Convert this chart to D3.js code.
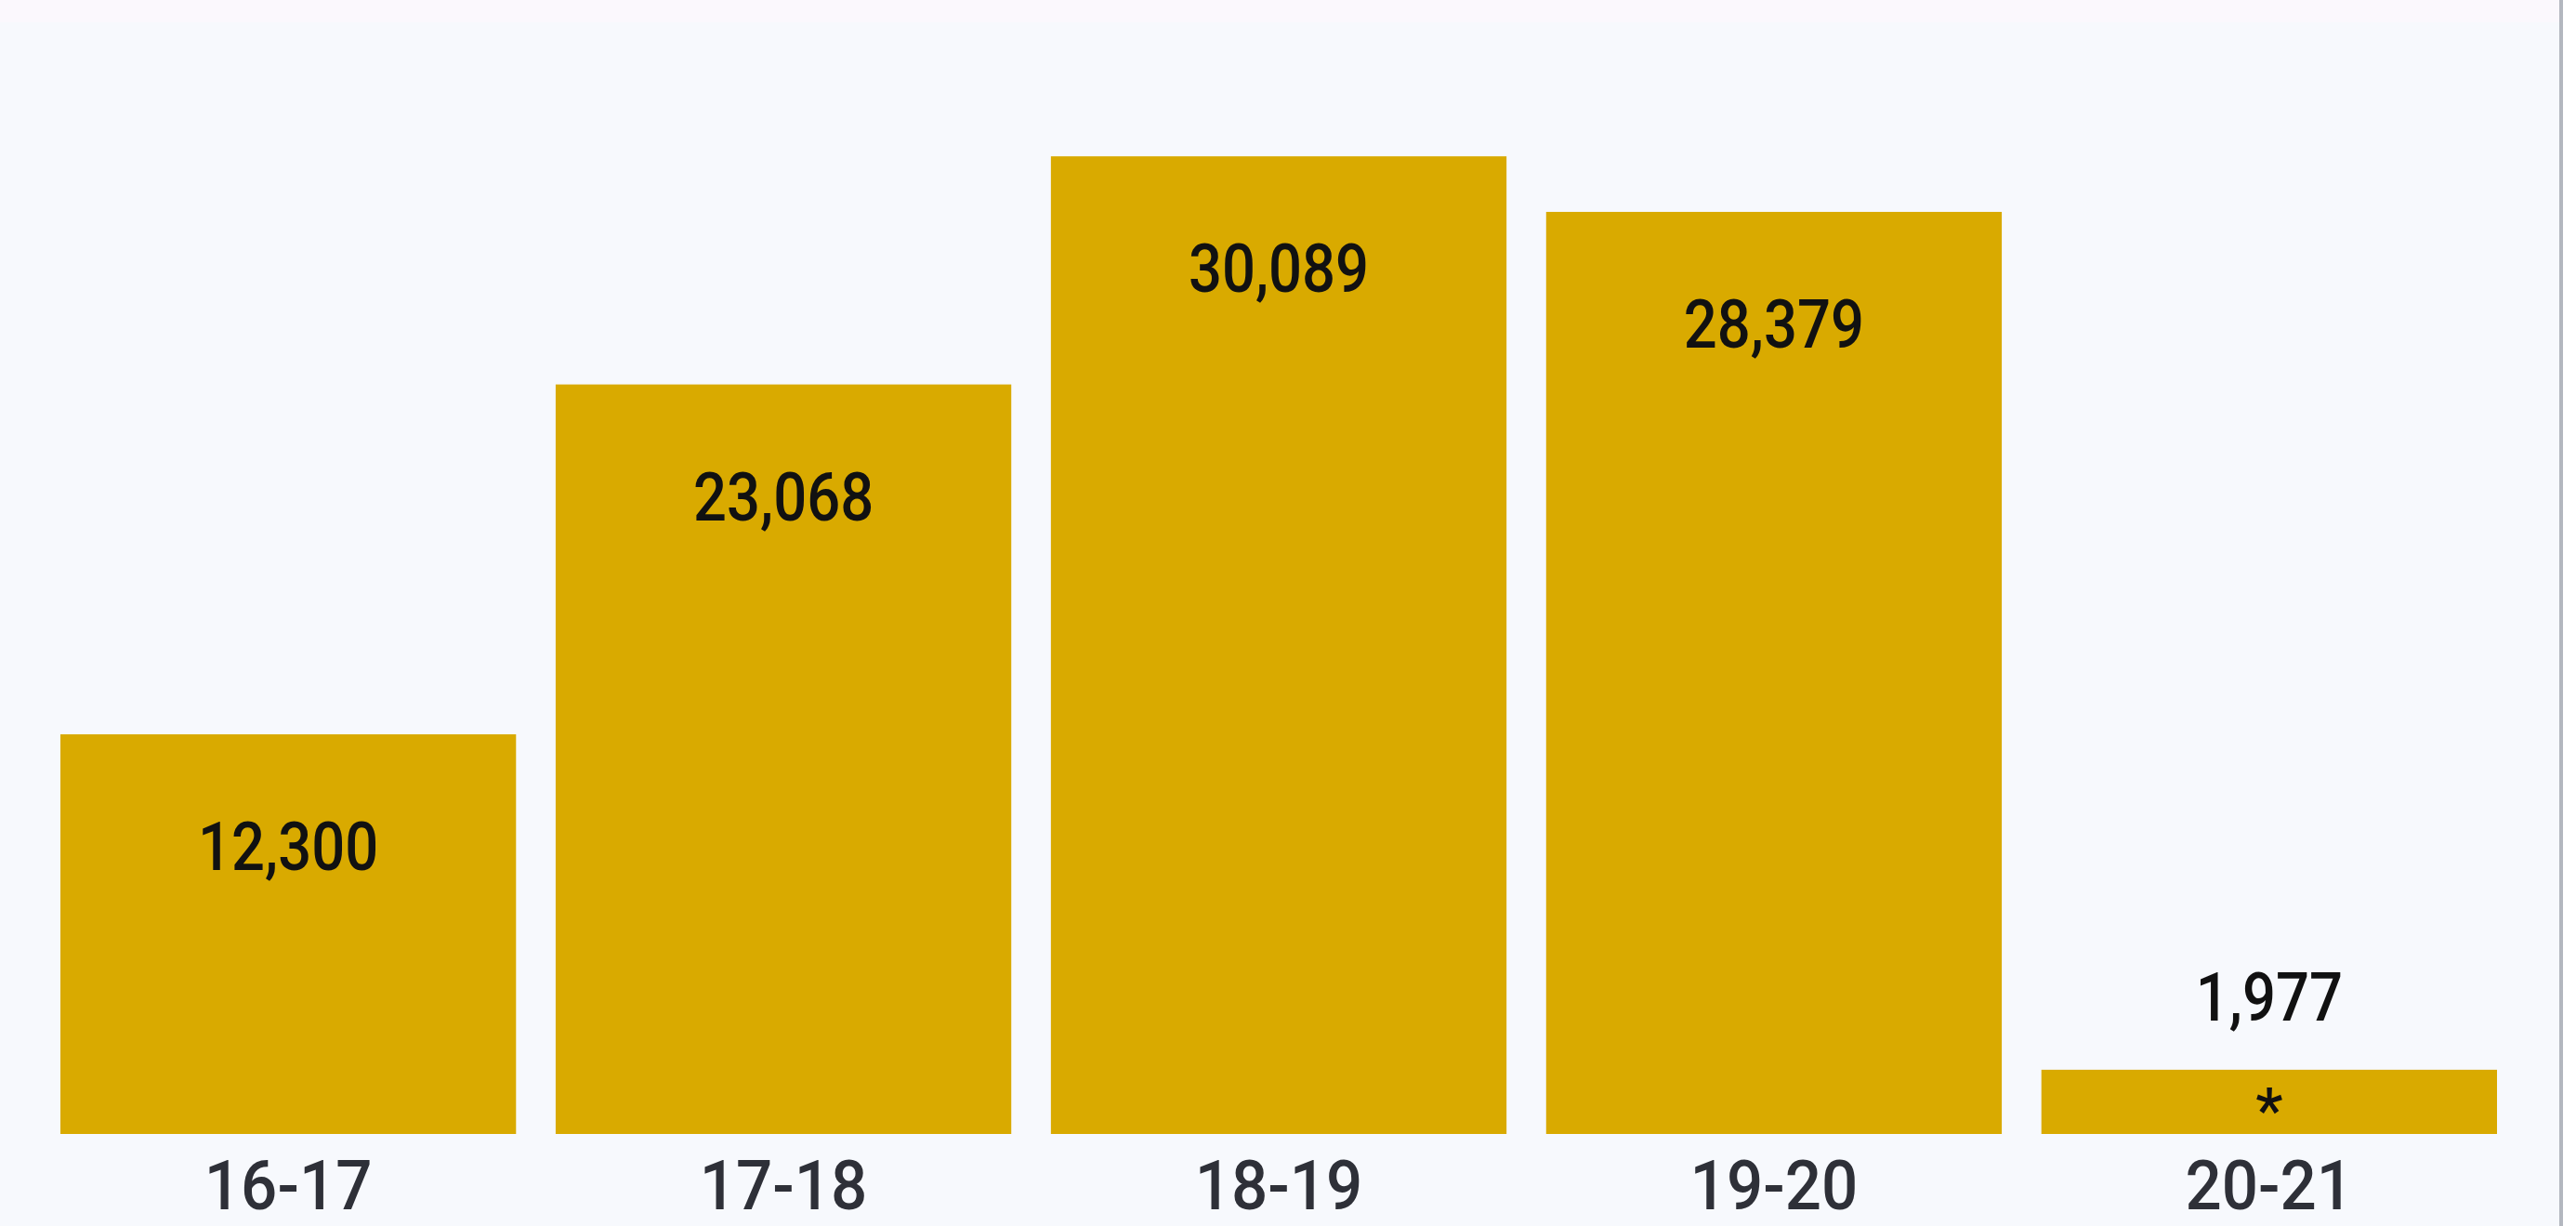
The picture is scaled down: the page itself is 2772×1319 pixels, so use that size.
<!DOCTYPE html>
<html>
<head>
<meta charset="utf-8">
<script src="https://cdn.jsdelivr.net/npm/d3@7"></script>
<style>
  html, body { margin: 0; padding: 0; background: #f7f9fd; }
  svg { display: block; }
</style>
</head>
<body>
<svg id="chart" width="2772" height="1319"></svg>
<script>
const categories = ["16-17", "17-18", "18-19", "19-20", "20-21"];
const values = [12300, 23068, 30089, 28379, 1977];
const insideLabel = [true, true, true, true, false];
const footnoteMark = ["", "", "", "", "*"];

const W = 2772, H = 1319;
const svg = d3.select("#chart");

svg.append("rect").attr("width", W).attr("height", H).attr("fill", "#f7f9fd");
svg.append("rect").attr("width", W).attr("height", 24).attr("fill", "#fbf8fd");
svg.append("rect").attr("x", 2758).attr("width", 14).attr("height", H).attr("fill", "#ffffff");
svg.append("rect").attr("x", 2754).attr("width", 4).attr("height", H).attr("fill", "#b3b7bf");

const x = d3.scaleBand().domain(categories).range([65, 2687]).paddingInner(0.08).paddingOuter(0);
const y = d3.scaleLinear().domain([0, 34900]).range([1220, 0]);

const data = categories.map((c, i) => ({ c, v: values[i], inside: insideLabel[i], mark: footnoteMark[i] }));

svg.append("g").selectAll("rect").data(data).join("rect")
  .attr("x", d => x(d.c))
  .attr("y", d => y(d.v))
  .attr("width", x.bandwidth())
  .attr("height", d => y(0) - y(d.v))
  .attr("fill", "#d9aa00");

const fmt = d3.format(",");
const font = "Roboto, 'Liberation Sans', sans-serif";

svg.append("g").selectAll("text").data(data).join("text")
  .attr("x", d => x(d.c) + x.bandwidth() / 2)
  .attr("y", d => d.inside ? y(d.v) + 146 : y(d.v) - 53)
  .attr("text-anchor", "middle")
  .attr("font-family", font)
  .attr("font-size", 72)
  .attr("font-weight", 500)
  .attr("fill", "#111111")
  .attr("transform", d => { const cx = x(d.c) + x.bandwidth() / 2; return `translate(${cx},0) scale(0.88,1) translate(${-cx},0)`; })
  .text(d => fmt(d.v));

svg.append("g").selectAll("text").data(data.filter(d => d.mark)).join("text")
  .attr("x", d => x(d.c) + x.bandwidth() / 2)
  .attr("y", d => y(0) - 2)
  .attr("text-anchor", "middle")
  .attr("font-family", font)
  .attr("font-size", 66)
  .attr("font-weight", 500)
  .attr("fill", "#111111")
  .text(d => d.mark);

const xAxis = svg.append("g").attr("transform", `translate(0,${1220})`)
  .call(d3.axisBottom(x).tickSize(0).tickPadding(0));
xAxis.select(".domain").remove();
xAxis.selectAll(".tick text")
  .attr("y", 78)
  .attr("dy", 0)
  .attr("font-family", font)
  .attr("font-size", 72)
  .attr("font-weight", 500)
  .attr("fill", "#2e3038")
  .attr("transform", "scale(0.96,1.04)");
</script>
</body>
</html>
